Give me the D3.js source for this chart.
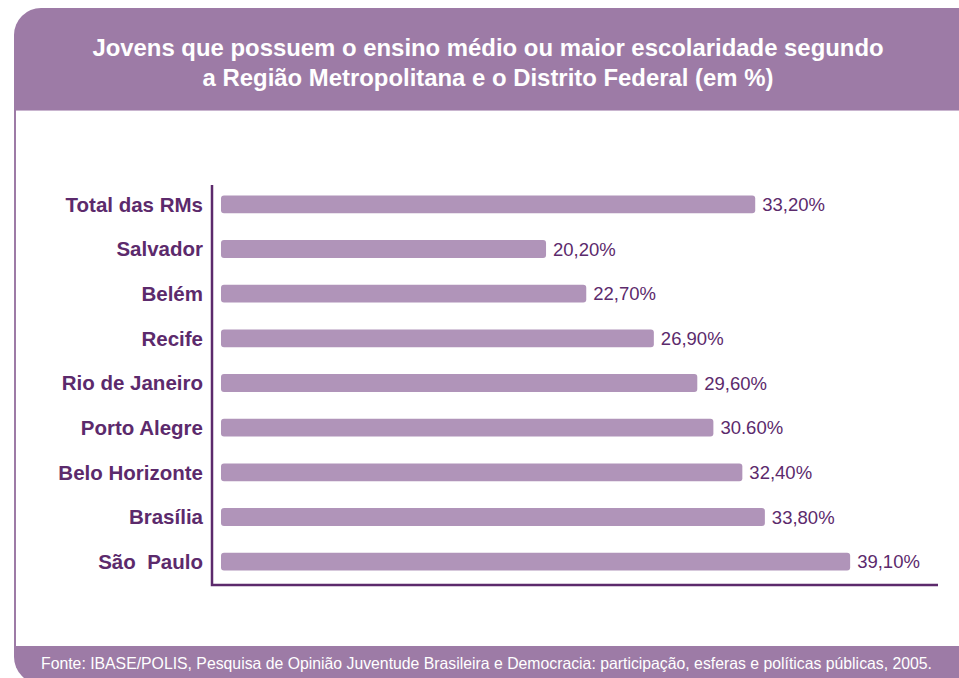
<!DOCTYPE html>
<html>
<head>
<meta charset="utf-8">
<script src="https://cdn.jsdelivr.net/npm/d3@7"></script>
<style>
  body { margin: 0; background: #fff; }
  svg { display: block; }
  text { font-family: "Liberation Sans", Arial, sans-serif; }
  .src { font-family: "Liberation Sans Narrow", "Liberation Sans", Arial, sans-serif; }
</style>
</head>
<body>
<script>
const categories = ["Total das RMs", "Salvador", "Belém", "Recife", "Rio de Janeiro",
  "Porto Alegre", "Belo Horizonte", "Brasília", "São  Paulo"];
const values = [33.2, 20.2, 22.7, 26.9, 29.6, 30.6, 32.4, 33.8, 39.1];
const valueLabels = ["33,20%", "20,20%", "22,70%", "26,90%", "29,60%",
  "30.60%", "32,40%", "33,80%", "39,10%"];
const titleLines = ["Jovens que possuem o ensino médio ou maior escolaridade segundo",
  "a Região Metropolitana e o Distrito Federal (em %)"];
const source = "Fonte: IBASE/POLIS, Pesquisa de Opinião Juventude Brasileira e Democracia: participação, esferas e políticas públicas,  2005.";

const width = 959, height = 678;
const purple = "#9d7ba6", dark = "#5c2a6c", barColor = "#b094b9";

const svg = d3.select("body").append("svg")
  .attr("width", width)
  .attr("height", height);

// panel: rounded purple box with white inner area
const panelLeft = 14, panelTop = 8, panelRight = 985, r = 27;
svg.append("rect")
  .attr("x", panelLeft).attr("y", panelTop)
  .attr("width", panelRight - panelLeft).attr("height", 684 - panelTop)
  .attr("rx", r)
  .attr("fill", purple);
svg.append("rect")
  .attr("x", panelLeft + 2).attr("y", 111)
  .attr("width", panelRight).attr("height", 535)
  .attr("fill", "#fff");
svg.append("line")
  .attr("x1", panelLeft + 2).attr("x2", width)
  .attr("y1", 110.5).attr("y2", 110.5)
  .attr("stroke", "#c9b5cf").attr("stroke-width", 1);

svg.append("g").selectAll("text")
  .data(titleLines)
  .join("text")
  .attr("x", 488)
  .attr("y", (d, i) => 56 + i * 30)
  .attr("text-anchor", "middle")
  .attr("fill", "#fff")
  .attr("font-weight", "bold")
  .attr("font-size", 23.9)
  .text(d => d);

svg.append("text")
  .attr("class", "src")
  .attr("x", 41).attr("y", 669)
  .attr("fill", "#fff")
  .attr("font-size", 16.5)
  .attr("textLength", 891)
  .attr("lengthAdjust", "spacingAndGlyphs")
  .text(source);

// chart
const x = d3.scaleLinear().domain([0, 44]).range([221, 929]);
const y = d3.scaleBand().domain(categories).range([182, 584]).paddingInner(0.6).paddingOuter(0.3);

const g = svg.append("g");
g.selectAll("rect.bar")
  .data(values)
  .join("rect")
  .attr("class", "bar")
  .attr("x", x(0))
  .attr("y", (d, i) => y(categories[i]))
  .attr("width", d => x(d) - x(0))
  .attr("height", y.bandwidth())
  .attr("rx", 3)
  .attr("fill", barColor);

g.selectAll("text.val")
  .data(values)
  .join("text")
  .attr("class", "val")
  .attr("x", d => x(d) + 7)
  .attr("y", (d, i) => y(categories[i]) + y.bandwidth() / 2)
  .attr("dy", "0.36em")
  .attr("fill", dark)
  .attr("font-size", 18.5)
  .text((d, i) => valueLabels[i]);

g.selectAll("text.cat")
  .data(categories)
  .join("text")
  .attr("class", "cat")
  .attr("x", 203)
  .attr("y", d => y(d) + y.bandwidth() / 2)
  .attr("dy", "0.36em")
  .attr("text-anchor", "end")
  .attr("fill", dark)
  .attr("font-weight", "bold")
  .attr("font-size", 20.5)
  .style("white-space", "pre")
  .text(d => d);

// axes lines
svg.append("path")
  .attr("d", `M212,185 V585 H938`)
  .attr("fill", "none")
  .attr("stroke", dark)
  .attr("stroke-width", 2.5);
</script>
</body>
</html>
